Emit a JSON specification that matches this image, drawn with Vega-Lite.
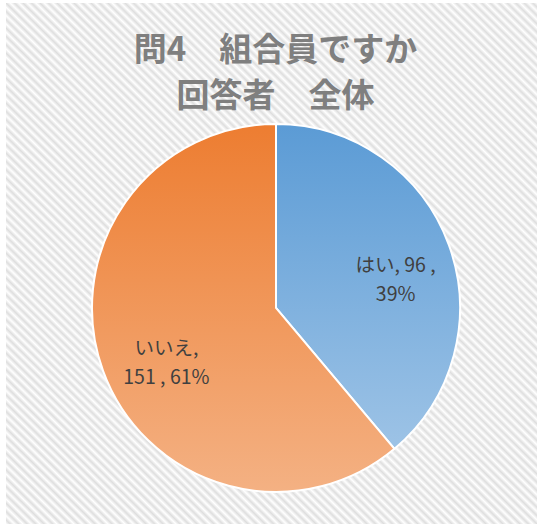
{
  "$schema": "https://vega.github.io/schema/vega-lite/v6.json",
  "width": 537,
  "height": 524,
  "autosize": {"type": "fit", "contains": "padding"},
  "padding": {"left": 6, "top": 3, "right": 0, "bottom": 0},
  "background": "#ffffff",
  "config": {"view": {"stroke": "#d9d9d9", "strokeWidth": 1.5}},
  "title": {
    "text": ["問4　組合員ですか", "回答者　全体"],
    "font": "Noto Sans CJK JP",
    "fontSize": 33,
    "fontWeight": "bold",
    "color": "#7f7f7f",
    "lineHeight": 46,
    "anchor": "middle",
    "offset": -111,
    "dx": 4
  },
  "data": {
    "values": [
      {"category": "はい", "count": 96, "label": "はい, 96 ,\n39%"},
      {"category": "いいえ", "count": 151, "label": "いいえ,\n151 , 61%"}
    ]
  },
  "layer": [
    {
      "data": {"values": [{}]},
      "mark": {
        "type": "rect",
        "fill": {
          "gradient": "linear", "x1": 0, "y1": 1, "x2": 1, "y2": 0,
          "stops": [
{"offset":0,"color":"#fff"},{"offset":0.004,"color":"#dedede"},{"offset":0.008,"color":"#fff"},{"offset":0.012,"color":"#dedede"},{"offset":0.016,"color":"#fff"},{"offset":0.02,"color":"#dedede"},{"offset":0.024,"color":"#fff"},{"offset":0.028,"color":"#dedede"},{"offset":0.032,"color":"#fff"},{"offset":0.036,"color":"#dedede"},
{"offset":0.04,"color":"#fff"},{"offset":0.044,"color":"#dedede"},{"offset":0.048,"color":"#fff"},{"offset":0.052,"color":"#dedede"},{"offset":0.056,"color":"#fff"},{"offset":0.06,"color":"#dedede"},{"offset":0.064,"color":"#fff"},{"offset":0.068,"color":"#dedede"},{"offset":0.072,"color":"#fff"},{"offset":0.076,"color":"#dedede"},
{"offset":0.08,"color":"#fff"},{"offset":0.084,"color":"#dedede"},{"offset":0.088,"color":"#fff"},{"offset":0.092,"color":"#dedede"},{"offset":0.096,"color":"#fff"},{"offset":0.1,"color":"#dedede"},{"offset":0.104,"color":"#fff"},{"offset":0.108,"color":"#dedede"},{"offset":0.112,"color":"#fff"},{"offset":0.116,"color":"#dedede"},
{"offset":0.12,"color":"#fff"},{"offset":0.124,"color":"#dedede"},{"offset":0.128,"color":"#fff"},{"offset":0.132,"color":"#dedede"},{"offset":0.136,"color":"#fff"},{"offset":0.14,"color":"#dedede"},{"offset":0.144,"color":"#fff"},{"offset":0.148,"color":"#dedede"},{"offset":0.152,"color":"#fff"},{"offset":0.156,"color":"#dedede"},
{"offset":0.16,"color":"#fff"},{"offset":0.164,"color":"#dedede"},{"offset":0.168,"color":"#fff"},{"offset":0.172,"color":"#dedede"},{"offset":0.176,"color":"#fff"},{"offset":0.18,"color":"#dedede"},{"offset":0.184,"color":"#fff"},{"offset":0.188,"color":"#dedede"},{"offset":0.192,"color":"#fff"},{"offset":0.196,"color":"#dedede"},
{"offset":0.2,"color":"#fff"},{"offset":0.204,"color":"#dedede"},{"offset":0.208,"color":"#fff"},{"offset":0.212,"color":"#dedede"},{"offset":0.216,"color":"#fff"},{"offset":0.22,"color":"#dedede"},{"offset":0.224,"color":"#fff"},{"offset":0.228,"color":"#dedede"},{"offset":0.232,"color":"#fff"},{"offset":0.236,"color":"#dedede"},
{"offset":0.24,"color":"#fff"},{"offset":0.244,"color":"#dedede"},{"offset":0.248,"color":"#fff"},{"offset":0.252,"color":"#dedede"},{"offset":0.256,"color":"#fff"},{"offset":0.26,"color":"#dedede"},{"offset":0.264,"color":"#fff"},{"offset":0.268,"color":"#dedede"},{"offset":0.272,"color":"#fff"},{"offset":0.276,"color":"#dedede"},
{"offset":0.28,"color":"#fff"},{"offset":0.284,"color":"#dedede"},{"offset":0.288,"color":"#fff"},{"offset":0.292,"color":"#dedede"},{"offset":0.296,"color":"#fff"},{"offset":0.3,"color":"#dedede"},{"offset":0.304,"color":"#fff"},{"offset":0.308,"color":"#dedede"},{"offset":0.312,"color":"#fff"},{"offset":0.316,"color":"#dedede"},
{"offset":0.32,"color":"#fff"},{"offset":0.324,"color":"#dedede"},{"offset":0.328,"color":"#fff"},{"offset":0.332,"color":"#dedede"},{"offset":0.336,"color":"#fff"},{"offset":0.34,"color":"#dedede"},{"offset":0.344,"color":"#fff"},{"offset":0.348,"color":"#dedede"},{"offset":0.352,"color":"#fff"},{"offset":0.356,"color":"#dedede"},
{"offset":0.36,"color":"#fff"},{"offset":0.364,"color":"#dedede"},{"offset":0.368,"color":"#fff"},{"offset":0.372,"color":"#dedede"},{"offset":0.376,"color":"#fff"},{"offset":0.38,"color":"#dedede"},{"offset":0.384,"color":"#fff"},{"offset":0.388,"color":"#dedede"},{"offset":0.392,"color":"#fff"},{"offset":0.396,"color":"#dedede"},
{"offset":0.4,"color":"#fff"},{"offset":0.404,"color":"#dedede"},{"offset":0.408,"color":"#fff"},{"offset":0.412,"color":"#dedede"},{"offset":0.416,"color":"#fff"},{"offset":0.42,"color":"#dedede"},{"offset":0.424,"color":"#fff"},{"offset":0.428,"color":"#dedede"},{"offset":0.432,"color":"#fff"},{"offset":0.436,"color":"#dedede"},
{"offset":0.44,"color":"#fff"},{"offset":0.444,"color":"#dedede"},{"offset":0.448,"color":"#fff"},{"offset":0.452,"color":"#dedede"},{"offset":0.456,"color":"#fff"},{"offset":0.46,"color":"#dedede"},{"offset":0.464,"color":"#fff"},{"offset":0.468,"color":"#dedede"},{"offset":0.472,"color":"#fff"},{"offset":0.476,"color":"#dedede"},
{"offset":0.48,"color":"#fff"},{"offset":0.484,"color":"#dedede"},{"offset":0.488,"color":"#fff"},{"offset":0.492,"color":"#dedede"},{"offset":0.496,"color":"#fff"},{"offset":0.5,"color":"#dedede"},{"offset":0.504,"color":"#fff"},{"offset":0.508,"color":"#dedede"},{"offset":0.512,"color":"#fff"},{"offset":0.516,"color":"#dedede"},
{"offset":0.52,"color":"#fff"},{"offset":0.524,"color":"#dedede"},{"offset":0.528,"color":"#fff"},{"offset":0.532,"color":"#dedede"},{"offset":0.536,"color":"#fff"},{"offset":0.54,"color":"#dedede"},{"offset":0.544,"color":"#fff"},{"offset":0.548,"color":"#dedede"},{"offset":0.552,"color":"#fff"},{"offset":0.556,"color":"#dedede"},
{"offset":0.56,"color":"#fff"},{"offset":0.564,"color":"#dedede"},{"offset":0.568,"color":"#fff"},{"offset":0.572,"color":"#dedede"},{"offset":0.576,"color":"#fff"},{"offset":0.58,"color":"#dedede"},{"offset":0.584,"color":"#fff"},{"offset":0.588,"color":"#dedede"},{"offset":0.592,"color":"#fff"},{"offset":0.596,"color":"#dedede"},
{"offset":0.6,"color":"#fff"},{"offset":0.604,"color":"#dedede"},{"offset":0.608,"color":"#fff"},{"offset":0.612,"color":"#dedede"},{"offset":0.616,"color":"#fff"},{"offset":0.62,"color":"#dedede"},{"offset":0.624,"color":"#fff"},{"offset":0.628,"color":"#dedede"},{"offset":0.632,"color":"#fff"},{"offset":0.636,"color":"#dedede"},
{"offset":0.64,"color":"#fff"},{"offset":0.644,"color":"#dedede"},{"offset":0.648,"color":"#fff"},{"offset":0.652,"color":"#dedede"},{"offset":0.656,"color":"#fff"},{"offset":0.66,"color":"#dedede"},{"offset":0.664,"color":"#fff"},{"offset":0.668,"color":"#dedede"},{"offset":0.672,"color":"#fff"},{"offset":0.676,"color":"#dedede"},
{"offset":0.68,"color":"#fff"},{"offset":0.684,"color":"#dedede"},{"offset":0.688,"color":"#fff"},{"offset":0.692,"color":"#dedede"},{"offset":0.696,"color":"#fff"},{"offset":0.7,"color":"#dedede"},{"offset":0.704,"color":"#fff"},{"offset":0.708,"color":"#dedede"},{"offset":0.712,"color":"#fff"},{"offset":0.716,"color":"#dedede"},
{"offset":0.72,"color":"#fff"},{"offset":0.724,"color":"#dedede"},{"offset":0.728,"color":"#fff"},{"offset":0.732,"color":"#dedede"},{"offset":0.736,"color":"#fff"},{"offset":0.74,"color":"#dedede"},{"offset":0.744,"color":"#fff"},{"offset":0.748,"color":"#dedede"},{"offset":0.752,"color":"#fff"},{"offset":0.756,"color":"#dedede"},
{"offset":0.76,"color":"#fff"},{"offset":0.764,"color":"#dedede"},{"offset":0.768,"color":"#fff"},{"offset":0.772,"color":"#dedede"},{"offset":0.776,"color":"#fff"},{"offset":0.78,"color":"#dedede"},{"offset":0.784,"color":"#fff"},{"offset":0.788,"color":"#dedede"},{"offset":0.792,"color":"#fff"},{"offset":0.796,"color":"#dedede"},
{"offset":0.8,"color":"#fff"},{"offset":0.804,"color":"#dedede"},{"offset":0.808,"color":"#fff"},{"offset":0.812,"color":"#dedede"},{"offset":0.816,"color":"#fff"},{"offset":0.82,"color":"#dedede"},{"offset":0.824,"color":"#fff"},{"offset":0.828,"color":"#dedede"},{"offset":0.832,"color":"#fff"},{"offset":0.836,"color":"#dedede"},
{"offset":0.84,"color":"#fff"},{"offset":0.844,"color":"#dedede"},{"offset":0.848,"color":"#fff"},{"offset":0.852,"color":"#dedede"},{"offset":0.856,"color":"#fff"},{"offset":0.86,"color":"#dedede"},{"offset":0.864,"color":"#fff"},{"offset":0.868,"color":"#dedede"},{"offset":0.872,"color":"#fff"},{"offset":0.876,"color":"#dedede"},
{"offset":0.88,"color":"#fff"},{"offset":0.884,"color":"#dedede"},{"offset":0.888,"color":"#fff"},{"offset":0.892,"color":"#dedede"},{"offset":0.896,"color":"#fff"},{"offset":0.9,"color":"#dedede"},{"offset":0.904,"color":"#fff"},{"offset":0.908,"color":"#dedede"},{"offset":0.912,"color":"#fff"},{"offset":0.916,"color":"#dedede"},
{"offset":0.92,"color":"#fff"},{"offset":0.924,"color":"#dedede"},{"offset":0.928,"color":"#fff"},{"offset":0.932,"color":"#dedede"},{"offset":0.936,"color":"#fff"},{"offset":0.94,"color":"#dedede"},{"offset":0.944,"color":"#fff"},{"offset":0.948,"color":"#dedede"},{"offset":0.952,"color":"#fff"},{"offset":0.956,"color":"#dedede"},
{"offset":0.96,"color":"#fff"},{"offset":0.964,"color":"#dedede"},{"offset":0.968,"color":"#fff"},{"offset":0.972,"color":"#dedede"},{"offset":0.976,"color":"#fff"},{"offset":0.98,"color":"#dedede"},{"offset":0.984,"color":"#fff"},{"offset":0.988,"color":"#dedede"},{"offset":0.992,"color":"#fff"},{"offset":0.996,"color":"#dedede"},
{"offset":1,"color":"#fff"}
          ]
        }
      },
      "encoding": {}
    },
    {
      "mark": {
        "type": "arc",
        "outerRadius": 184,
        "stroke": "#ffffff",
        "strokeWidth": 2,
        "xOffset": 4.5,
        "yOffset": 44.5
      },
      "encoding": {
        "theta": {"field": "count", "type": "quantitative", "stack": true},
        "order": {"field": "count", "type": "quantitative", "sort": "ascending"},
        "fill": {
          "condition": {
            "test": "datum.category === 'はい'",
            "value": {"gradient": "linear", "x1": 0, "y1": 0, "x2": 0, "y2": 1,
              "stops": [{"offset": 0, "color": "#5b9bd5"}, {"offset": 1, "color": "#9dc3e6"}]}
          },
          "value": {"gradient": "linear", "x1": 0, "y1": 0, "x2": 0, "y2": 1,
            "stops": [{"offset": 0, "color": "#ed7d31"}, {"offset": 1, "color": "#f4b183"}]}
        }
      }
    },
    {
      "mark": {
        "type": "text",
        "radius": 122,
        "xOffset": 9.5,
        "yOffset": 44,
        "font": "Noto Sans CJK JP",
        "fontSize": 19.5,
        "color": "#404040",
        "align": "center",
        "baseline": "middle",
        "lineBreak": "\n",
        "lineHeight": 29
      },
      "encoding": {
        "theta": {"field": "count", "type": "quantitative", "stack": true},
        "order": {"field": "count", "type": "quantitative", "sort": "ascending"},
        "text": {"field": "label", "type": "nominal"}
      }
    }
  ]
}
